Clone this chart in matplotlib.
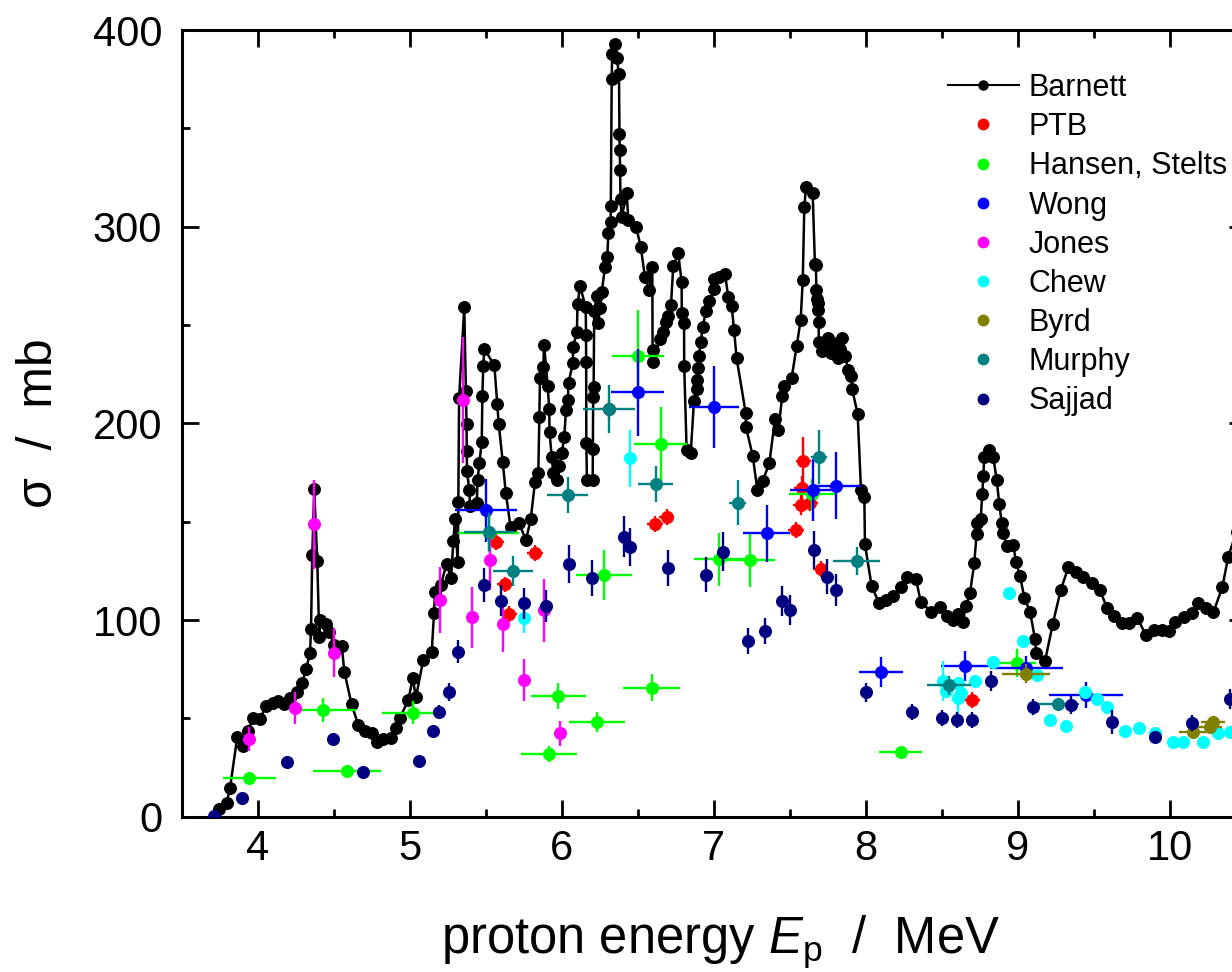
import matplotlib
matplotlib.use("Agg")
import matplotlib.pyplot as plt
from matplotlib.lines import Line2D
from matplotlib.ticker import MultipleLocator

plt.rcParams["font.family"] = "Liberation Sans"
plt.rcParams["mathtext.fontset"] = "custom"
plt.rcParams["mathtext.rm"] = "Liberation Sans"
plt.rcParams["mathtext.it"] = "Liberation Sans:italic"

# Barnett excitation curve (E / MeV, sigma / mb)
barnett = [
    (3.747, 3.8), (3.796, 7.1), (3.818, 14.7), (3.866, 40.7), (3.901, 36.1), (3.938, 43.6),
    (3.967, 50), (4.015, 49.7), (4.055, 56.3), (4.099, 57.6), (4.132, 58.8), (4.175, 57.1),
    (4.213, 60.5), (4.261, 63.2), (4.293, 68.1), (4.318, 74.9), (4.344, 83.1), (4.351, 95.6),
    (4.359, 133), (4.372, 166.4), (4.392, 130), (4.405, 91.2), (4.410, 100), (4.447, 98),
    (4.471, 93.7), (4.502, 87.3), (4.553, 86.9), (4.570, 73.7), (4.618, 57.1), (4.662, 46.6),
    (4.706, 43.6), (4.750, 42.4), (4.783, 38.1), (4.826, 39.5), (4.877, 40.2), (4.910, 44.9),
    (4.936, 50.3), (4.991, 59.3), (5.020, 70.4), (5.041, 60.7), (5.089, 79.7), (5.145, 83.9),
    (5.160, 103.4), (5.166, 114.1), (5.204, 117.8), (5.243, 128.6), (5.272, 121.2), (5.287, 140),
    (5.298, 151.2), (5.316, 129.4), (5.320, 159.8), (5.325, 213), (5.359, 259), (5.370, 216.4),
    (5.374, 199.5), (5.376, 185.9), (5.377, 175.7), (5.392, 166.1), (5.397, 158.1), (5.441, 159.3),
    (5.447, 171.2), (5.458, 179.7), (5.474, 190.6), (5.478, 213.9), (5.484, 229.1), (5.491, 237.9),
    (5.557, 229.5), (5.576, 209.7), (5.586, 199.5), (5.612, 180.5), (5.632, 164.7), (5.664, 147.1),
    (5.719, 149.2), (5.765, 140.7), (5.796, 151.2), (5.824, 170), (5.846, 174.6), (5.853, 203.4),
    (5.857, 223.2), (5.879, 228.5), (5.884, 240), (5.908, 219), (5.918, 207.1), (5.920, 195.7),
    (5.934, 183), (5.945, 174.6), (5.967, 171.2), (5.984, 178.3), (6.000, 184.7), (6.017, 193.2),
    (6.028, 206.7), (6.040, 211.8), (6.045, 220.3), (6.072, 230.5), (6.076, 239), (6.100, 246.6),
    (6.104, 260.6), (6.121, 269.8), (6.158, 259), (6.160, 244.9), (6.161, 231.3), (6.162, 189.8),
    (6.166, 171.2), (6.204, 171.2), (6.205, 186.8), (6.207, 213.5), (6.210, 218.3), (6.214, 257),
    (6.230, 264.7), (6.241, 250.8), (6.252, 258.8), (6.263, 266.6), (6.285, 279.5), (6.300, 284.4),
    (6.307, 296.9), (6.322, 302.2), (6.323, 310.5), (6.329, 375), (6.332, 388), (6.349, 393),
    (6.362, 386), (6.377, 377.4), (6.380, 347), (6.382, 339), (6.384, 329), (6.387, 314),
    (6.395, 305), (6.428, 317), (6.438, 303.4), (6.489, 300), (6.520, 289.8), (6.548, 274.2),
    (6.576, 267.8), (6.596, 279.3), (6.598, 237.3), (6.600, 231.3), (6.647, 242.7), (6.668, 246.6),
    (6.684, 251.3), (6.697, 254.6), (6.719, 260.1), (6.734, 280.1), (6.767, 286.4), (6.789, 271.7),
    (6.790, 255.9), (6.805, 250.8), (6.806, 229.1), (6.822, 186.4), (6.849, 185), (6.870, 211.3),
    (6.888, 217.3), (6.892, 222), (6.899, 228), (6.903, 234.2), (6.914, 241.5), (6.928, 249.1),
    (6.949, 257.1), (6.971, 262.2), (7.002, 268.1), (7.003, 273.4), (7.035, 274.5), (7.074, 275.9),
    (7.096, 264.4), (7.118, 259.8), (7.134, 247.4), (7.151, 233), (7.211, 205.1), (7.212, 198.3),
    (7.257, 183.4), (7.287, 166.1), (7.322, 170.7), (7.366, 179.7), (7.403, 202), (7.425, 196.6),
    (7.451, 213.9), (7.463, 219), (7.513, 223.2), (7.546, 239.3), (7.572, 252.5), (7.586, 272.9),
    (7.596, 309.8), (7.607, 320.3), (7.651, 317.2), (7.666, 281), (7.672, 280.5), (7.676, 268),
    (7.680, 263), (7.683, 261), (7.686, 257.6), (7.690, 251.7), (7.692, 241.5), (7.715, 237),
    (7.735, 240), (7.750, 243.5), (7.770, 236), (7.787, 240.7), (7.798, 235.4), (7.815, 233),
    (7.830, 238), (7.842, 243.4), (7.864, 234.4), (7.886, 227), (7.905, 224.3), (7.910, 217.7),
    (7.947, 204.8), (7.969, 166.3), (7.991, 162.7), (7.995, 138.5), (8.039, 117.3), (8.088, 108.5),
    (8.134, 110.3), (8.182, 112.4), (8.232, 116.7), (8.270, 122), (8.331, 120.9), (8.362, 109.2),
    (8.430, 104.3), (8.489, 106.4), (8.533, 102.1), (8.572, 100), (8.605, 103.2), (8.638, 98.9),
    (8.660, 107.1), (8.686, 113.5), (8.714, 128.9), (8.730, 143.9), (8.733, 149.4), (8.757, 151.6),
    (8.767, 164.2), (8.774, 173.4), (8.780, 183), (8.811, 186.6), (8.839, 183), (8.862, 171.2),
    (8.879, 158.8), (8.895, 149.4), (8.905, 144.5), (8.928, 137.4), (8.971, 138.1), (8.989, 129.5),
    (9.015, 122.5), (9.044, 111.3), (9.081, 104.3), (9.114, 90.3), (9.122, 83.3), (9.180, 79.2),
    (9.230, 97.8), (9.283, 115.2), (9.333, 126.8), (9.384, 124.6), (9.432, 121.7), (9.487, 118.6),
    (9.541, 115.2), (9.589, 105.9), (9.633, 102), (9.688, 98.6), (9.734, 98.6), (9.787, 101.2),
    (9.842, 92.4), (9.897, 94.9), (9.947, 94.9), (9.997, 94.6), (10.035, 98.8), (10.094, 101.4),
    (10.145, 103.4), (10.188, 108.8), (10.237, 106.3), (10.287, 103.9), (10.346, 116.6),
    (10.385, 132.2), (10.44, 145),
]
barnett_e = [p[0] for p in barnett]
barnett_s = [p[1] for p in barnett]

ptb_e = [5.568, 5.627, 5.655, 5.824, 6.313, 6.614, 6.691, 7.541, 7.574, 7.579, 7.589, 7.634, 7.704, 8.697]
ptb_s = [139.8, 118.1, 103, 133.9, 207.1, 148.7, 152.5, 145.8, 158.5, 167.3, 181, 159.3, 125.8, 59.3]
ptb_xerr = [0.05, 0.05, 0.05, 0.05, 0.05, 0.055, 0.05, 0.05, 0.05, 0.05, 0.05, 0.05, 0.05, 0.055]
ptb_yerr = [4, 4, 4, 4, 5, 4, 4, 4, 5, 6, 12, 4, 4, 4]

hansen_e = [3.945, 4.428, 4.589, 5.020, 5.52, 5.918, 5.978, 6.230, 6.280, 6.500, 6.592, 6.651,
            7.037, 7.239, 7.647, 8.230, 8.993]
hansen_s = [19.8, 54.2, 23.2, 52.9, 144.4, 31.7, 61.4, 48.3, 122.9, 234.4, 65.6, 189.5,
            130.9, 130.5, 163.9, 32.8, 78.1]
hansen_xerr = [0.175, 0.22, 0.225, 0.2, 0.2, 0.183, 0.183, 0.184, 0.185, 0.17, 0.187, 0.175,
               0.165, 0.165, 0.15, 0.143, 0.125]
hansen_yerr = [2, 6, 2.5, 6, 10, 4, 6.5, 5, 12.7, 23, 6.8, 19, 13.5, 13.5, 8, 3, 7]

wong_e = [5.500, 6.500, 7.002, 7.349, 7.651, 7.805, 8.101, 8.653, 9.055, 9.449]
wong_s = [155.9, 215.8, 208.4, 144.1, 166.1, 168.3, 73.5, 76.7, 75.6, 61.9]
wong_xerr = [0.203, 0.173, 0.165, 0.156, 0.15, 0.165, 0.145, 0.16, 0.24, 0.245]
wong_yerr = [16, 22, 21, 14.6, 16, 17, 7.5, 7.8, 6, 6.8]

jones_e = [3.945, 4.245, 4.372, 4.504, 5.199, 5.349, 5.408, 5.528, 5.612, 5.752, 5.884, 5.989]
jones_s = [39.5, 55.1, 148.6, 83.4, 110.2, 211.8, 101.4, 130.5, 98, 69.5, 105, 42.4]
jones_yerr = [5.9, 8.2, 22.7, 12.5, 17, 32, 15.5, 15, 14.4, 10.6, 16, 6.4]

chew_e = [5.752, 6.449, 8.508, 8.530, 8.605, 8.610, 8.630, 8.720, 8.836, 8.945, 9.037, 9.127,
          9.213, 9.318, 9.443, 9.520, 9.589, 9.706, 9.798, 9.903, 10.024, 10.089, 10.221,
          10.320, 10.397]
chew_s = [101.2, 182.2, 69, 63.8, 67.9, 60.4, 62.8, 69, 78.6, 113.5, 89.3, 72,
          49.2, 46.1, 63.6, 59.7, 55.6, 43.6, 45.2, 42.7, 37.8, 37.8, 37.8, 42.7, 43.2]
chew_yerr = [7.6, 14.4, 10, 0, 0, 10, 0, 0, 0, 0, 0, 0,
             0, 0, 0, 0, 0, 0, 0, 0, 0, 0, 0, 0, 0]

byrd_e = [9.053, 10.155, 10.265, 10.287]
byrd_s = [72.8, 42.9, 45.8, 48.3]
byrd_xerr = [0.158, 0.093, 0.08, 0.08]
byrd_yerr = [5, 2, 2, 3]

murphy_e = [5.524, 5.678, 6.039, 6.313, 6.620, 7.158, 7.693, 7.941, 8.550, 9.267]
murphy_s = [144.9, 124.9, 163.6, 207.3, 169.1, 159.6, 183, 129.9, 66.8, 57.3]
murphy_xerr = [0.165, 0.132, 0.134, 0.172, 0.115, 0.055, 0.055, 0.154, 0.145, 0.137]
murphy_yerr = [9.7, 7.6, 9.3, 12, 9.3, 11.4, 13.6, 7, 4.8, 2]

sajjad_e = [3.715, 3.899, 4.195, 4.497, 4.695, 5.060, 5.151, 5.195, 5.259, 5.320, 5.491, 5.599,
            5.752, 5.897, 6.050, 6.197, 6.410, 6.449, 6.701, 6.949, 7.063, 7.228, 7.338, 7.447,
            7.502, 7.660, 7.747, 7.803, 8.002, 8.303, 8.504, 8.603, 8.701, 8.824, 9.103, 9.351,
            9.622, 9.903, 10.145, 10.397]
sajjad_s = [0.4, 9.3, 28, 39.3, 22.6, 28.3, 43.7, 53.1, 63.5, 83.9, 117.8, 109.8,
            108.5, 107.1, 128.5, 121.2, 142.4, 137, 126.6, 122.9, 134.7, 89.3, 94.4, 109.7,
            105.1, 135.6, 122, 115.3, 63.2, 53.1, 50.3, 49.3, 49.3, 69, 55.7, 56.8,
            48.3, 40.7, 47.8, 59.7]
sajjad_yerr = [1, 1.5, 1.5, 2, 1.5, 2, 3, 3.5, 4.6, 6, 8.5, 8, 8, 8, 9.6, 9.2, 10.6, 9.7, 9.2,
               8.9, 9.9, 6.7, 6.8, 7.8, 7.6, 9.7, 8.9, 8, 4.8, 4, 4, 4, 4, 5, 4, 4.7, 6, 3, 4, 5]

labels = ["Barnett", "PTB", "Hansen, Stelts", "Wong", "Jones", "Chew", "Byrd", "Murphy", "Sajjad"]
colors = ["#000000", "#ff0000", "#00ff00", "#0000ff", "#ff00ff", "#00ffff", "#808000", "#008080", "#000080"]

fig = plt.figure(figsize=(12.32, 9.72), dpi=100)
# axes runs past the right edge of the figure, as in the original crop
ax = fig.add_axes([0.14748, 0.15977, 0.86364, 0.80936])

ax.plot(barnett_e, barnett_s, "-o", color="k", lw=1.8, ms=8.3, zorder=2)

ms = 8.4
elw = 1.7
series = [
    (ptb_e, ptb_s, ptb_xerr, ptb_yerr, colors[1]),
    (hansen_e, hansen_s, hansen_xerr, hansen_yerr, colors[2]),
    (wong_e, wong_s, wong_xerr, wong_yerr, colors[3]),
    (jones_e, jones_s, None, jones_yerr, colors[4]),
    (chew_e, chew_s, None, chew_yerr, colors[5]),
    (byrd_e, byrd_s, byrd_xerr, byrd_yerr, colors[6]),
    (murphy_e, murphy_s, murphy_xerr, murphy_yerr, colors[7]),
    (sajjad_e, sajjad_s, None, sajjad_yerr, colors[8]),
]
for i, (x, y, xe, ye, c) in enumerate(series):
    ax.errorbar(x, y, xerr=xe, yerr=ye, fmt="o", color=c, ms=ms, elinewidth=elw,
                capsize=0, zorder=3 + i)

ax.set_xlim(3.5, 10.5)
ax.set_ylim(0, 400)
ax.xaxis.set_major_locator(MultipleLocator(1))
ax.xaxis.set_minor_locator(MultipleLocator(0.5))
ax.yaxis.set_major_locator(MultipleLocator(100))
ax.yaxis.set_minor_locator(MultipleLocator(50))
ax.tick_params(which="both", direction="in", top=True, right=True, width=2, labelsize=30)
ax.tick_params(which="major", length=12)
ax.tick_params(which="minor", length=6)
ax.tick_params(axis="x", pad=9)
ax.tick_params(axis="y", pad=14)
for sp in ax.spines.values():
    sp.set_linewidth(2.2)

ax.set_xlabel("proton energy $E_\\mathrm{p}$  /  MeV", fontsize=36.5, labelpad=32)
ax.xaxis.label.set_x(0.506)
ax.set_ylabel("\u03c3  /  mb", fontsize=36, labelpad=22)

handles = [Line2D([], [], color="k", marker="o", ms=6.5, lw=1.5)]
for c in colors[1:]:
    handles.append(Line2D([], [], ls="none", marker="o", ms=7.5, color=c))
fig.legend(handles, labels, loc="upper left", bbox_to_anchor=(948 / 1232, 1 - 73 / 972),
           frameon=False, fontsize=22, borderaxespad=0, borderpad=0, handlelength=2.32,
           handletextpad=0.33, labelspacing=0.3)

fig.savefig("out.png", dpi=100)
